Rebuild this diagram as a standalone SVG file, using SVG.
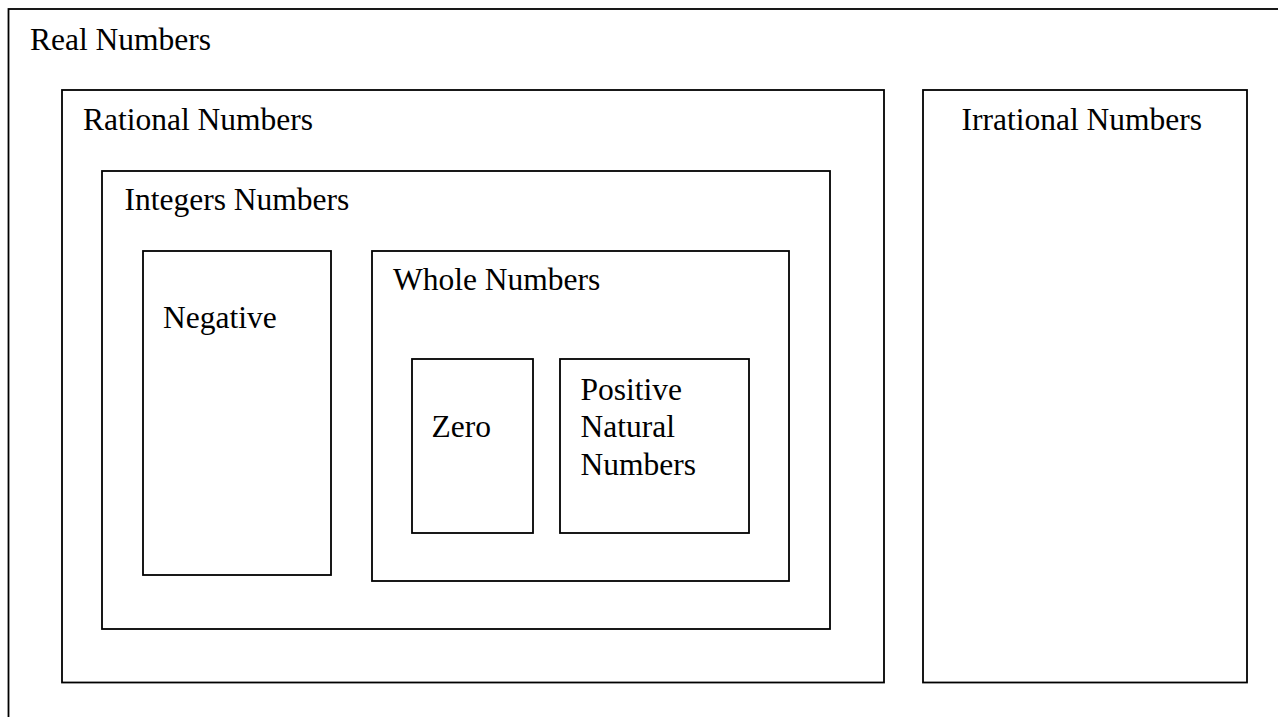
<svg xmlns="http://www.w3.org/2000/svg" width="1278" height="717" viewBox="0 0 1278 717">
<style>
rect{fill:none;stroke:#000;stroke-width:1.8}
text{font-family:"Liberation Serif","Times New Roman",serif;font-size:31.5px;fill:#000}
</style>
<rect x="0" y="0" width="1278" height="717" style="fill:#fff;stroke:none"/>
<g id="real"><rect x="8.5" y="9" width="1300" height="800"/><text x="30" y="49.5">Real Numbers</text></g>
<g id="rational"><rect x="62" y="90" width="822" height="592.5"/><text x="83" y="130">Rational Numbers</text></g>
<g id="irrational"><rect x="923" y="90" width="324" height="592.5"/><text x="961.5" y="130">Irrational Numbers</text></g>
<g id="integers"><rect x="102" y="171" width="728" height="458"/><text x="124.5" y="210">Integers Numbers</text></g>
<g id="negative"><rect x="143" y="251" width="188" height="324"/><text x="163" y="328">Negative</text></g>
<g id="whole"><rect x="372" y="251" width="417" height="330"/><text x="393" y="290">Whole Numbers</text></g>
<g id="zero"><rect x="412" y="359" width="121" height="174"/><text x="431.5" y="436.5">Zero</text></g>
<g id="positive"><rect x="560" y="359" width="189" height="174"/><text x="580.5"><tspan x="580.5" y="400">Positive</tspan><tspan x="580.5" y="437">Natural</tspan><tspan x="580.5" y="474.5">Numbers</tspan></text></g>
<g id="connectors"/>
</svg>
